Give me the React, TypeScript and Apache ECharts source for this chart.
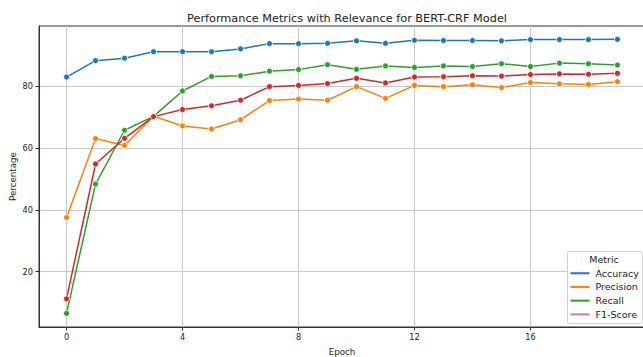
import React, { useEffect, useRef } from "react";
import * as echarts from "echarts";

const epochs = [0, 1, 2, 3, 4, 5, 6, 7, 8, 9, 10, 11, 12, 13, 14, 15, 16, 17, 18, 19];
const accuracy = [82.9, 88.2, 89.0, 91.1, 91.1, 91.1, 92.0, 93.7, 93.7, 93.8, 94.6, 93.8, 94.8, 94.7, 94.7, 94.6, 95.0, 95.0, 95.0, 95.1];
const precision = [37.5, 63.0, 60.8, 70.2, 67.1, 66.1, 69.1, 75.3, 75.8, 75.4, 79.8, 76.0, 80.2, 79.8, 80.4, 79.5, 81.1, 80.7, 80.5, 81.4];
const recall = [6.5, 48.3, 65.7, 70.2, 78.4, 83.1, 83.3, 84.8, 85.3, 86.9, 85.4, 86.5, 86.0, 86.5, 86.3, 87.2, 86.3, 87.4, 87.2, 86.8];
const f1 = [11.2, 54.8, 63.1, 70.1, 72.4, 73.6, 75.4, 79.8, 80.2, 80.8, 82.5, 81.0, 82.9, 83.0, 83.3, 83.2, 83.7, 83.9, 83.8, 84.1];
const xTicks = [0, 4, 8, 12, 16];
const yTicks = [20, 40, 60, 80];
const seriesNames = ["Accuracy", "Precision", "Recall", "F1-Score"];
const colors = ["#1f77b4", "#ff7f0e", "#2ca02c", "#d62728"];

const FONT = "DejaVu Sans";

export default function App() {
  const ref = useRef<HTMLDivElement>(null);
  useEffect(() => {
    if (!ref.current) return;
    const chart = echarts.init(ref.current, null, { renderer: "svg" });
    const datasets = [accuracy, precision, recall, f1];
    chart.setOption({
      animation: false,
      backgroundColor: "#ffffff",
      title: {
        text: "Performance Metrics with Relevance for BERT-CRF Model",
        left: 342,
        textAlign: "center",
        top: 8,
        textStyle: { fontFamily: FONT, fontSize: 11.3, fontWeight: "normal", color: "#222" },
      },
      grid: {
        left: 39,
        top: 26,
        right: -2,
        bottom: 30,
        show: true,
        borderColor: "#333",
        borderWidth: 1,
        containLabel: false,
        outerBoundsMode: "none",
      },
      xAxis: {
        type: "value",
        min: -0.95,
        max: 19.95,
        name: "Epoch",
        nameLocation: "middle",
        nameGap: 24.5,
        nameMoveOverlap: false,
        nameTextStyle: { fontFamily: FONT, fontSize: 8.7, color: "#222", verticalAlign: "middle" },
        axisLine: { show: true, onZero: false, lineStyle: { color: "#333", width: 1 } },
        axisTick: { show: true, length: 3.5, customValues: xTicks, lineStyle: { color: "#333" } },
        axisLabel: { customValues: xTicks, fontFamily: FONT, fontSize: 8.2, color: "#222", margin: 6 },
        splitLine: { show: true, lineStyle: { color: "#c8c8c8", width: 1 } },
      },
      yAxis: {
        type: "value",
        min: 2.1,
        max: 99.4,
        name: "Percentage",
        nameLocation: "middle",
        nameGap: 26,
        nameMoveOverlap: false,
        nameTextStyle: { fontFamily: FONT, fontSize: 8.7, color: "#222", verticalAlign: "middle" },
        axisLine: { show: true, onZero: false, lineStyle: { color: "#333", width: 1 } },
        axisTick: { show: true, length: 3.5, customValues: yTicks, lineStyle: { color: "#333" } },
        axisLabel: { customValues: yTicks, fontFamily: FONT, fontSize: 8.2, color: "#222", margin: 6 },
        splitLine: { show: true, lineStyle: { color: "#c8c8c8", width: 1 } },
      },
      legend: {
        orient: "vertical",
        left: 570.5,
        top: 267.5,
        itemWidth: 19,
        itemHeight: 2,
        itemGap: 2.2,
        padding: 0,
        icon: "rect",
        z: 20,
        itemStyle: { borderWidth: 0 },
        textStyle: { fontFamily: FONT, fontSize: 9.5, color: "#222", lineHeight: 11.5, padding: [0, 0, 0, 1] },
        data: seriesNames.map((n, i) => ({
          name: n,
          itemStyle: { color: i === 3 ? "#e87a7a" : colors[i], borderWidth: 0 },
        })),
      },
      graphic: [
        {
          type: "rect",
          shape: { x: 567.5, y: 251.5, width: 75, height: 72, r: 2 },
          style: { fill: "rgba(255,255,255,0.85)", stroke: "#d0d0d0", lineWidth: 1 },
          z: 5,
        },
        {
          type: "text",
          x: 604,
          y: 259.5,
          style: {
            text: "Metric",
            fontFamily: FONT,
            fontSize: 9.5,
            fill: "#222",
            align: "center",
            verticalAlign: "middle",
          },
          z: 21,
        },
      ],
      series: datasets.map((d, i) => ({
        name: seriesNames[i],
        type: "line",
        data: epochs.map((e, j) => [e, d[j]]),
        symbol: "circle",
        symbolSize: 6,
        showSymbol: true,
        color: colors[i],
        lineStyle: { width: 1.5, color: colors[i] },
        itemStyle: { color: colors[i], borderColor: "#fff", borderWidth: 0.8 },
        z: 3,
      })),
    });
    return () => chart.dispose();
  }, []);
  return <div ref={ref} style={{ width: 643, height: 357, position: "absolute", left: 0, top: 0 }} />;
}
